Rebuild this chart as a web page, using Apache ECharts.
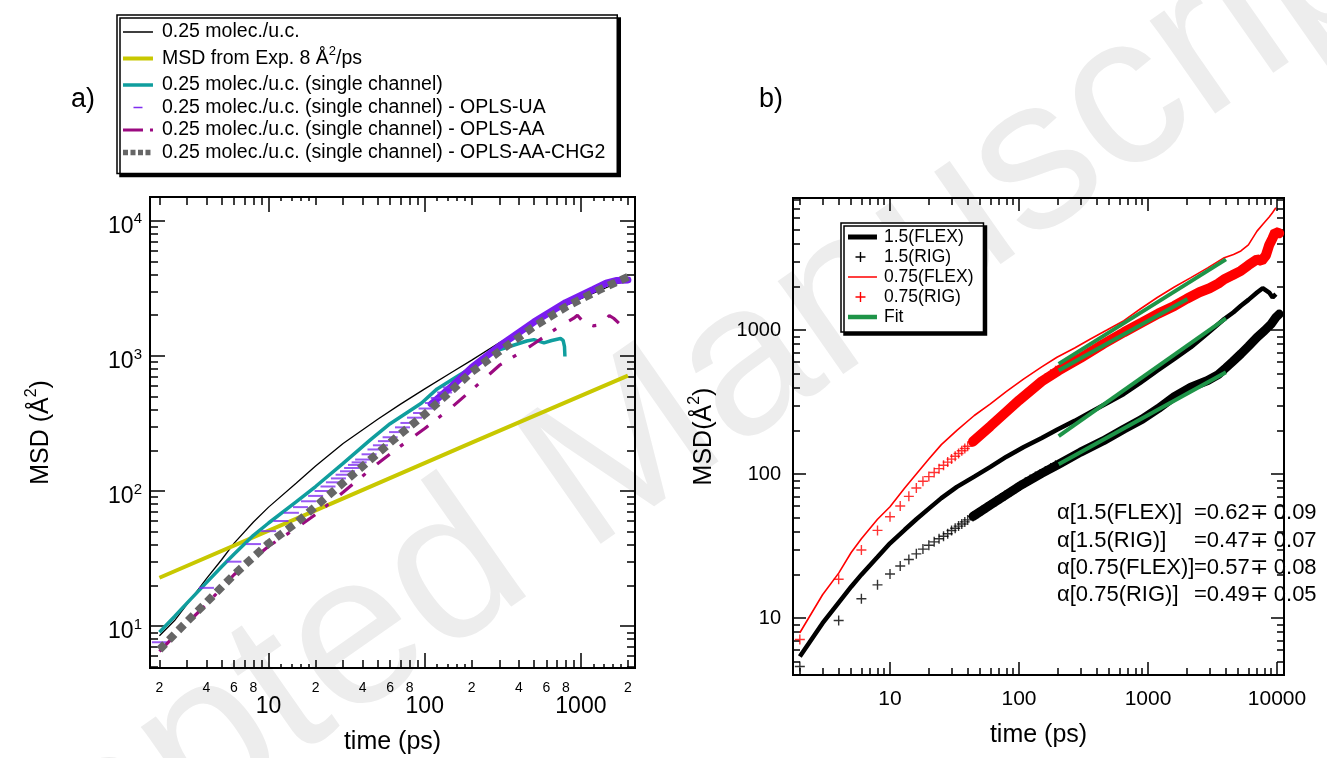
<!DOCTYPE html>
<html><head><meta charset="utf-8">
<script src="https://cdn.jsdelivr.net/npm/echarts@6/dist/echarts.min.js"></script>
<style>html,body{margin:0;padding:0;background:#fff}#c{width:1327px;height:758px}</style>
</head><body><div id="c"></div>
<script>
// ---------------- Panel a) data ----------------
const aBlackT = [2, 2.5, 3, 4, 5, 6, 8, 10, 15, 20, 30, 50, 70, 100, 150, 200, 300, 500, 700, 1000, 1500, 2000];
const aBlackM = [8.5, 11, 14.5, 22.5, 31, 41, 59, 76, 114, 153, 225, 340, 440, 570, 760, 930, 1250, 1750, 2200, 2650, 3250, 3650];
const aExpT = [2, 20, 200, 2000];
const aExpM = [22.8, 72, 228, 714];
const aTealT = [2, 2.5, 3, 4, 5, 6, 8, 10, 15, 20, 30, 45, 60, 95, 120, 160, 200, 250, 300, 370, 450, 500, 580, 650, 740, 770, 785, 790];
const aTealM = [9.0, 11.8, 14.8, 21, 27.5, 34, 47, 58, 83, 108, 160, 240, 315, 446, 570, 700, 820, 1000, 1110, 1200, 1290, 1320, 1250, 1300, 1345, 1300, 1170, 990];
const aUaDashT = [2,4,6,8,10,12,14,16,18,20,22,24,26,28,30,32,34,36,38,40,44,48,52,56,60,66,72,78,86,94,102,112,122,134,146];
const aUaDashM = [7.6,19.2,30,40.5,50.5,60,69,76,84,92,100,108,116,124,132,140,148,156,163,171,187,203,218,234,250,273,296,319,349,378,408,448,488,536,584];
const aUaBandT = [110, 150, 200, 300, 500, 800, 1200, 1450, 1700, 2000];
const aUaBandM = [440, 600, 820, 1180, 1780, 2480, 3100, 3450, 3620, 3650];
const aAaT = [2, 3, 4, 6, 8, 10, 15, 20, 30, 50, 70, 100, 150, 200, 300, 400, 500, 700, 900, 950, 1050, 1200, 1350, 1520, 1620, 1750];
const aAaM = [6.5, 10.5, 14.5, 24, 31.5, 39, 53, 67, 98, 160, 215, 290, 420, 560, 850, 1040, 1230, 1600, 1900, 2000, 1750, 1670, 1700, 1990, 1900, 1750];
const aChgT = [2, 3, 4, 6, 8, 10, 15, 20, 30, 50, 70, 100, 150, 200, 300, 500, 800, 1300, 2000];
const aChgM = [6.7, 10.8, 15, 24, 32.5, 41, 58, 77, 115, 190, 265, 370, 560, 760, 1080, 1650, 2300, 3070, 3850];

// panel a) axes / ticks
const aXRange = [1.74, 2220];
const aYRange = [4.9, 15000];
const aXMajor = [10, 100, 1000];
const aXMinor = [2,3,4,5,6,7,8,9,20,30,40,50,60,70,80,90,200,300,400,500,600,700,800,900,2000];
const aXTiny = [12,14,16,18,120,140,160,180,1200,1400,1600,1800];
const aXMinorLabels = [2,4,6,8,20,40,60,80,200,400,600,800,2000];
const aYMajor = [10, 100, 1000, 10000];
const aYMinor = [5,6,7,8,9,20,30,40,50,60,70,80,90,200,300,400,500,600,700,800,900,2000,3000,4000,5000,6000,7000,8000,9000];

// ---------------- Panel b) data ----------------
const bFlexT   = [2, 3, 4, 5, 6, 8, 10, 13, 16, 20, 25, 33, 45, 60, 80, 109, 150, 197, 270, 358, 480, 650, 870, 1180, 1600, 2150, 2900, 3900, 4600, 5250, 6000, 7000, 7740, 8700, 9250, 9800];
const bFlex075 = [7.9, 14.5, 20.5, 28.5, 35.5, 48.5, 59.3, 80, 100, 127, 160, 201, 255, 307, 375, 458, 555, 647, 750, 867, 1000, 1161, 1400, 1683, 1990, 2313, 2700, 3183, 3350, 3541, 3900, 4865, 5400, 6100, 6550, 7063];
const bFlex15  = [5.4, 9.2, 12.8, 16.5, 20, 26.5, 33, 41, 48.5, 57.5, 68, 81.5, 96, 112, 132, 154, 178, 203, 234, 269, 310, 360, 430, 523, 630, 759, 950, 1192, 1330, 1473, 1620, 1820, 1953, 1822, 1683, 1774];
const bRigT    = [2,4,6,8,10,12,14,16,18,20,22,24,26,28,30,32,34,36,38,40,44,48,52,56,60,66,72,78,86,94,102,112,122,134,146,160,176,192];
const bRig15   = [4.6,9.6,13.6,17.0,20.2,23.0,25.5,27.9,30.1,32.0,33.8,35.5,37.0,38.5,40.5,42.0,43.5,45.0,46.5,48.0,50.8,53.5,56.0,58.5,61.0,64.5,68.0,71.0,75.0,79.0,83.0,87.5,91.5,96.0,100,105,110,115];
const bRig075  = [7.1,18.6,29.7,40.6,50.5,60,70,80,89,96,102.5,109,115,121,127,133,139,145,150.5,156,168,180,192,203,215,232,249,266,288,309,330,355,379,407,434,463,494,521];
const bBand15T = [44, 60, 78, 100, 150, 203, 300, 450, 650, 900, 1200, 1600, 2150, 2900, 3500, 4000, 4500, 5250, 6000, 7000, 8000, 9000, 9800, 10400];
const bBand15M = [50.8, 61, 71, 82, 101, 117, 142, 170, 205, 240, 285, 345, 401, 446, 490, 545, 600, 683, 770, 890, 990, 1100, 1224, 1290];
const bBand075T = [44, 60, 78, 100, 150, 203, 300, 450, 650, 900, 1200, 1600, 2000, 2500, 3000, 3500, 3900, 4500, 5250, 6000, 7000, 7600, 8200, 8700, 9200, 9700, 10400];
const bBand075M = [168, 215, 266, 325, 440, 524, 640, 800, 965, 1130, 1300, 1470, 1650, 1830, 1950, 2100, 2254, 2400, 2578, 2820, 3098, 3020, 3300, 3900, 4300, 4800, 4700];
const bFit075FT = [203, 4020], bFit075FM = [582, 3097];
const bFit075RT = [203, 2023], bFit075RM = [524, 1641];
const bFit15FT = [203, 4020],  bFit15FM = [183, 1205];
const bFit15RT = [203, 4020],  bFit15RM = [117, 509];

const bXRange = [1.77, 11330];
const bYRange = [4.02, 8260];
const bXMajor = [10, 100, 1000, 10000];
const bXMinor = [2,3,4,5,6,7,8,9,20,30,40,50,60,70,80,90,200,300,400,500,600,700,800,900,2000,3000,4000,5000,6000,7000,8000,9000];
const bYMajor = [10, 100, 1000];
const bYMinor = [5,6,7,8,9,20,30,40,50,60,70,80,90,200,300,400,500,600,700,800,900,2000,3000,4000,5000,6000,7000,8000];

const alphaLines = [
  ['α[1.5(FLEX)]', '=0.62∓ 0.09'],
  ['α[1.5(RIG)]', '=0.47∓ 0.07'],
  ['α[0.75(FLEX)]', '=0.57∓ 0.08'],
  ['α[0.75(RIG)]', '=0.49∓ 0.05']
];

const N1 = '0.25 molec./u.c.';
const N2 = 'MSD from Exp. 8 Å²/ps';
const N3 = '0.25 molec./u.c. (single channel)';
const N4 = '0.25 molec./u.c. (single channel) - OPLS-UA';
const N5 = '0.25 molec./u.c. (single channel) - OPLS-AA';
const N6 = '0.25 molec./u.c. (single channel) - OPLS-AA-CHG2';
const R1 = '1.5(FLEX)', R2 = '1.5(RIG)', R3 = '0.75(FLEX)', R4 = '0.75(RIG)', R5 = 'Fit';

// ---------------- build ----------------
const FONT = "'Liberation Sans', Arial, Helvetica, sans-serif";
const zip = (t, m) => t.map((v, i) => [v, m[i]]);
const CROSS = 'path://M4.3,0H5.7V4.3H10V5.7H5.7V10H4.3V5.7H0V4.3H4.3Z';
// legend icon built from horizontal bar segments inside a W x H box (corner specks keep the box)
function barIcon(W, H, th, segs) {
  const y0 = H / 2 - th / 2, y1 = H / 2 + th / 2;
  return 'path://M0,0H0.01V0.01H0Z M' + W + ',' + H + 'H' + (W + 0.01) + 'V' + (H + 0.01) + 'H' + W + 'Z ' +
    segs.map(s => 'M' + s[0] + ',' + y0 + 'H' + s[1] + 'V' + y1 + 'H' + s[0] + 'Z').join(' ');
}
function crossIcon(W, H, size) {
  const c = size / 2, t = 0.7, y = H / 2;
  return 'path://M0,0H0.01V0.01H0Z M' + W + ',' + H + 'H' + (W + 0.01) + 'V' + (H + 0.01) + 'H' + W + 'Z ' +
    'M' + (W / 2 - 3 - t) + ',' + (y - c) + 'H' + (W / 2 - 3 + t) + 'V' + (y + c) + 'H' + (W / 2 - 3 - t) + 'Z ' +
    'M' + (W / 2 - 3 - c) + ',' + (y - t) + 'H' + (W / 2 - 3 + c) + 'V' + (y + t) + 'H' + (W / 2 - 3 - c) + 'Z';
}

function ax(grid, pos, range, ticks, len, labels, labelOpt, extra) {
  return Object.assign({
    type: 'log', logBase: 10, gridIndex: grid, position: pos, min: range[0], max: range[1],
    axisLine: {show: false}, splitLine: {show: false},
    minorTick: {show: false}, minorSplitLine: {show: false},
    axisTick: {show: true, inside: true, length: len, customValues: ticks, lineStyle: {color: '#000', width: 1.5}},
    axisLabel: labels ? Object.assign({show: true, customValues: labels, color: '#000', fontFamily: FONT}, labelOpt) : {show: false},
    axisPointer: {show: false}, silent: true
  }, extra || {});
}
const firstDigit = v => String(Math.round(v / Math.pow(10, Math.floor(Math.log10(v) + 1e-9))));
const nameRich = {
  a: {fontSize: 25, lineHeight: 34, fontFamily: FONT, color: '#000'},
  s: {fontSize: 16, lineHeight: 16, verticalAlign: 'top', fontFamily: FONT, color: '#000'}
};

const xAxis = [
  ax(0, 'bottom', aXRange, aXMajor, 15, aXMajor, {fontSize: 23, margin: 27, formatter: v => String(v)},
     {name: 'time (ps)', nameLocation: 'middle', nameGap: 62, nameTextStyle: {fontSize: 25, fontFamily: FONT, color: '#000'}}),
  ax(0, 'bottom', aXRange, aXMinor, 8, aXMinorLabels, {fontSize: 14, margin: 13, formatter: firstDigit}),
  ax(0, 'bottom', aXRange, aXTiny, 4),
  ax(0, 'top', aXRange, aXMajor, 15),
  ax(0, 'top', aXRange, aXMinor, 8),
  ax(0, 'top', aXRange, aXTiny, 4),
  ax(1, 'bottom', bXRange, bXMajor, 13, bXMajor, {fontSize: 21, margin: 14, formatter: v => String(v)},
     {name: 'time (ps)', nameLocation: 'middle', nameGap: 48, nameTextStyle: {fontSize: 25, fontFamily: FONT, color: '#000'}}),
  ax(1, 'bottom', bXRange, bXMinor, 7),
  ax(1, 'top', bXRange, bXMajor, 13),
  ax(1, 'top', bXRange, bXMinor, 7)
];
const yAxis = [
  ax(0, 'left', aYRange, aYMajor, 15, aYMajor, {
      margin: 8, padding: [12, 0, 0, 0],
      formatter: v => '{b|10}{s|' + Math.round(Math.log10(v)) + '}',
      rich: {b: {fontSize: 23, lineHeight: 30, fontFamily: FONT, color: '#000'},
             s: {fontSize: 15, lineHeight: 12, verticalAlign: 'top', fontFamily: FONT, color: '#000'}}},
     {name: '{a|MSD (Å}{s|2}{a|)}', nameLocation: 'middle', nameGap: 92, nameRotate: 90, nameTextStyle: {rich: nameRich}}),
  ax(0, 'left', aYRange, aYMinor, 8),
  ax(0, 'right', aYRange, aYMajor, 15),
  ax(0, 'right', aYRange, aYMinor, 8),
  ax(1, 'left', bYRange, bYMajor, 13, bYMajor, {fontSize: 20, margin: 12, formatter: v => String(v)},
     {name: '{a|MSD(Å}{s|2}{a|)}', nameLocation: 'middle', nameGap: 72, nameRotate: 90, nameTextStyle: {rich: nameRich}}),
  ax(1, 'left', bYRange, bYMinor, 7),
  ax(1, 'right', bYRange, bYMajor, 13),
  ax(1, 'right', bYRange, bYMinor, 7)
];

const A = {xAxisIndex: 0, yAxisIndex: 0};
const B = {xAxisIndex: 6, yAxisIndex: 4};
const line = (o) => Object.assign({type: 'line', symbol: 'none', showSymbol: false, smooth: false, silent: true, animation: false}, o);

const C = {black: '#000000', yellow: '#c8c800', teal: '#109e9e', ua: '#7f2ef0', uaBand: '#7a1cf0', aa: '#9b0a80', chg: '#666666', red: '#ff0000', green: '#1e9448'};

const series = [
  line(Object.assign({name: N1, data: zip(aBlackT, aBlackM), lineStyle: {color: C.black, width: 1.3}, itemStyle: {color: C.black}, z: 3}, A)),
  line(Object.assign({name: N2, data: zip(aExpT, aExpM), lineStyle: {color: C.yellow, width: 4}, itemStyle: {color: C.yellow}, z: 3}, A)),
  line(Object.assign({name: N3, data: zip(aTealT, aTealM), lineStyle: {color: C.teal, width: 3.5}, itemStyle: {color: C.teal}, z: 4}, A)),
  Object.assign({type: 'scatter', name: N4, data: zip(aUaDashT, aUaDashM), symbol: 'rect', symbolSize: [15, 2],
    itemStyle: {color: C.ua}, silent: true, z: 5}, A),
  line(Object.assign({name: 'uaBand', data: zip(aUaBandT, aUaBandM), lineStyle: {color: C.uaBand, width: 7, cap: 'round'}, z: 5}, A)),
  line(Object.assign({name: N5, data: zip(aAaT, aAaM), lineStyle: {color: C.aa, width: 3.2, type: [16, 13, 4, 15]}, itemStyle: {color: C.aa}, z: 6}, A)),
  line(Object.assign({name: N6, data: zip(aChgT, aChgM), lineStyle: {color: C.chg, width: 8, type: [8, 5.5]}, itemStyle: {color: C.chg}, z: 7}, A)),

  line(Object.assign({name: R1, data: zip(bFlexT, bFlex15), lineStyle: {color: C.black, width: 4.5}, itemStyle: {color: C.black}, z: 3}, B)),
  line(Object.assign({name: 'band15', data: zip(bBand15T, bBand15M), lineStyle: {color: C.black, width: 9, cap: 'round'}, z: 3}, B)),
  Object.assign({type: 'scatter', name: R2, data: zip(bRigT, bRig15), symbol: CROSS, symbolSize: 10, itemStyle: {color: C.black}, silent: true, z: 3}, B),
  line(Object.assign({name: R3, data: zip(bFlexT, bFlex075), lineStyle: {color: C.red, width: 1.6}, itemStyle: {color: C.red}, z: 4}, B)),
  line(Object.assign({name: 'band075', data: zip(bBand075T, bBand075M), lineStyle: {color: C.red, width: 10, cap: 'round'}, z: 4}, B)),
  Object.assign({type: 'scatter', name: R4, data: zip(bRigT, bRig075), symbol: CROSS, symbolSize: 10, itemStyle: {color: C.red}, silent: true, z: 4}, B),
  line(Object.assign({name: R5, data: zip(bFit075FT, bFit075FM), lineStyle: {color: C.green, width: 4}, itemStyle: {color: C.green}, z: 8}, B)),
  line(Object.assign({name: R5, data: zip(bFit075RT, bFit075RM), lineStyle: {color: C.green, width: 4}, itemStyle: {color: C.green}, z: 8}, B)),
  line(Object.assign({name: R5, data: zip(bFit15FT, bFit15FM), lineStyle: {color: C.green, width: 4}, itemStyle: {color: C.green}, z: 8}, B)),
  line(Object.assign({name: R5, data: zip(bFit15RT, bFit15RM), lineStyle: {color: C.green, width: 4}, itemStyle: {color: C.green}, z: 8}, B))
];

const legendBox = {orient: 'vertical', selectedMode: false, backgroundColor: '#fff', borderColor: '#000', borderWidth: 1.5,
  shadowColor: '#000', shadowOffsetX: 3, shadowOffsetY: 3, shadowBlur: 0, align: 'left'};
const li = (name, icon, color) => ({name, icon, itemStyle: {color, borderWidth: 0, opacity: 1}});

const legend = [
  Object.assign({}, legendBox, {
    left: 117, top: 15, itemWidth: 34, itemHeight: 14, itemGap: 2.5, padding: [7, 12, 11, 6],
    data: [
      li(N1, barIcon(34, 14, 1.3, [[0, 30]]), C.black),
      li(N2, barIcon(34, 14, 4, [[0, 30]]), C.yellow),
      li(N3, barIcon(34, 14, 3.5, [[0, 30]]), C.teal),
      li(N4, barIcon(34, 14, 1.5, [[10.5, 19.5]]), C.ua),
      li(N5, barIcon(34, 14, 3, [[0, 20], [27, 30]]), C.aa),
      li(N6, barIcon(34, 14, 5.5, [[0, 5], [7.5, 12.5], [15, 20], [22.5, 27.5]]), C.chg)
    ],
    formatter: n => n === N2 ? '{m|MSD from Exp. 8 Å}{s|2}{m|/ps}' : n,
    textStyle: {fontSize: 19.5, fontFamily: FONT, color: '#000', lineHeight: 20,
      rich: {m: {fontSize: 19.5, lineHeight: 28, fontFamily: FONT, color: '#000'},
             s: {fontSize: 13, lineHeight: 13, verticalAlign: 'top', fontFamily: FONT, color: '#000'}}}
  }),
  Object.assign({}, legendBox, {
    left: 841, top: 223, itemWidth: 31, itemHeight: 12, itemGap: 2, padding: [5, 10, 6, 7],
    data: [
      li(R1, barIcon(31, 12, 5, [[0, 29]]), C.black),
      li(R2, crossIcon(31, 12, 10), C.black),
      li(R3, barIcon(31, 12, 1.5, [[0, 29]]), C.red),
      li(R4, crossIcon(31, 12, 10), C.red),
      li(R5, barIcon(31, 12, 4.5, [[0, 29]]), C.green)
    ],
    textStyle: {fontSize: 17.5, fontFamily: FONT, color: '#000', lineHeight: 17}
  })
];

const graphic = [
  {type: 'text', x: 653, y: 566, rotation: 35 * Math.PI / 180, z: -10, silent: true,
   style: {text: 'Accepted Manuscript', fontSize: 215, fontFamily: FONT, fill: '#ededed', align: 'center', verticalAlign: 'bottom'}},
  {type: 'text', x: 71, y: 100, z: 10, style: {text: 'a)', fontSize: 27, fontFamily: FONT, fill: '#000', align: 'left', verticalAlign: 'middle'}},
  {type: 'text', x: 759, y: 100, z: 10, style: {text: 'b)', fontSize: 27, fontFamily: FONT, fill: '#000', align: 'left', verticalAlign: 'middle'}}
];
const alphaY = [513, 541, 568, 595];
alphaLines.forEach((p, i) => {
  graphic.push({type: 'text', x: 1057, y: alphaY[i], z: 10, style: {text: p[0], fontSize: 22, fontFamily: FONT, fill: '#000', align: 'left', verticalAlign: 'middle'}});
  graphic.push({type: 'text', x: 1194, y: alphaY[i], z: 10, style: {text: p[1], fontSize: 22, fontFamily: FONT, fill: '#000', align: 'left', verticalAlign: 'middle'}});
});

const chart = echarts.init(document.getElementById('c'), null, {renderer: 'canvas', width: 1327, height: 758});
chart.setOption({
  animation: false,
  backgroundColor: '#fff',
  textStyle: {fontFamily: FONT},
  grid: [
    {left: 150, top: 197, width: 485, height: 471, show: true, borderColor: '#000', borderWidth: 2, backgroundColor: 'transparent', outerBoundsMode: 'none', containLabel: false},
    {left: 793, top: 198, width: 491, height: 477, show: true, borderColor: '#000', borderWidth: 2, backgroundColor: 'transparent', outerBoundsMode: 'none', containLabel: false}
  ],
  xAxis, yAxis, series, legend, graphic,
  tooltip: {show: false}
});
</script>
</body></html>
